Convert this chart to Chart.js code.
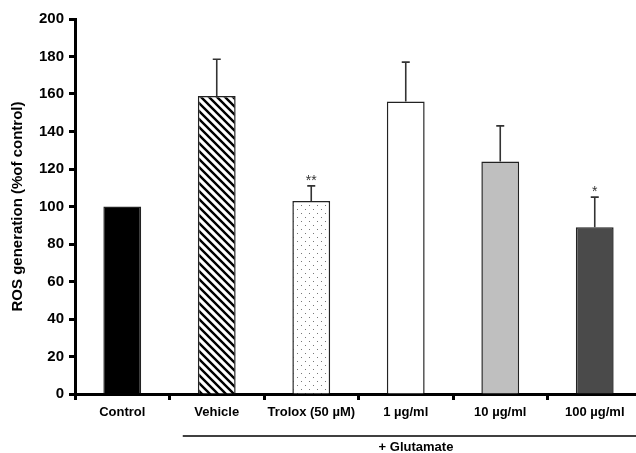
<!DOCTYPE html>
<html>
<head>
<meta charset="utf-8">
<script src="https://cdn.jsdelivr.net/npm/chart.js@4/dist/chart.umd.min.js"></script>
<style>
  html, body { margin: 0; padding: 0; background: #fff; overflow: hidden; }
  #wrap { width: 650px; height: 453px; }
</style>
</head>
<body>
<div id="wrap"><canvas id="rosChart" width="650" height="453"></canvas></div>
<script>
// data
const categories = ["Control", "Vehicle", "Trolox (50 \u00b5M)", "1 \u00b5g/ml", "10 \u00b5g/ml", "100 \u00b5g/ml"];
const rosMeans = [100, 159, 103, 156, 124, 89];
const rosErrors = [0, 19.5, 8, 21, 19, 16];
const sigMarks = ["", "", "**", "", "", "*"];
const yTicks = [0, 20, 40, 60, 80, 100, 120, 140, 160, 180, 200];

const FONT = "'Liberation Sans', Arial, sans-serif";

function makeStripes() {
    let c = document.createElement("canvas");
    c.width = 8; c.height = 8;
    let g = c.getContext("2d");
    g.fillStyle = "#fff";
    g.fillRect(0, 0, 8, 8);
    g.strokeStyle = "#000";
    g.lineWidth = 2.4;
    g.beginPath();
    g.moveTo(-2, -2); g.lineTo(10, 10);
    g.moveTo(-10, -2); g.lineTo(2, 10);
    g.moveTo(6, -2); g.lineTo(18, 10);
    g.stroke();
    return g.createPattern(c, "repeat");
}

function makeDots() {
    let c = document.createElement("canvas");
    c.width = 8; c.height = 8;
    let g = c.getContext("2d");
    g.fillStyle = "#fff";
    g.fillRect(0, 0, 8, 8);
    g.fillStyle = "#777";
    g.fillRect(1, 1, 1, 1);
    g.fillRect(5, 5, 1, 1);
    return g.createPattern(c, "repeat");
}

let ctx = document.getElementById("rosChart").getContext("2d");

// error bars, significance stars and the "+ Glutamate" bracket
const extrasPlugin = {
    id: "extras",
    afterDatasetsDraw(chart) {
        let c = chart.ctx;
        let x = chart.scales.x;
        let y = chart.scales.y;
        c.save();
        c.strokeStyle = "#333";
        c.lineWidth = 1.6;
        for (let i = 0; i < rosMeans.length; i++) {
            if (!rosErrors[i]) continue;
            let px = x.getPixelForValue(i);
            let top = y.getPixelForValue(rosMeans[i] + rosErrors[i]);
            let base = y.getPixelForValue(rosMeans[i]);
            c.beginPath();
            c.moveTo(px, base);
            c.lineTo(px, top);
            c.moveTo(px - 4, top);
            c.lineTo(px + 4, top);
            c.stroke();
            if (sigMarks[i]) {
                c.fillStyle = "#333";
                c.font = "14px " + FONT;
                c.textAlign = "center";
                c.textBaseline = "bottom";
                c.fillText(sigMarks[i], px, top + 2);
            }
        }
        // bracket under the glutamate-treated groups
        let lineY = 436;
        let left = x.getPixelForValue(1) - 34;
        c.strokeStyle = "#000";
        c.lineWidth = 1.5;
        c.beginPath();
        c.moveTo(left, lineY);
        c.lineTo(chart.width, lineY);
        c.stroke();
        c.fillStyle = "#000";
        c.font = "bold 13px " + FONT;
        c.textAlign = "center";
        c.textBaseline = "middle";
        c.fillText("+ Glutamate", (x.getPixelForValue(3) + x.getPixelForValue(4)) / 2 - 37, 447);
        c.restore();
    }
};

let myChart = new Chart(ctx, {
    type: "bar",
    data: {
        labels: categories,
        datasets: [
            {
                label: "ROS generation",
                data: rosMeans,
                backgroundColor: ["#000000", makeStripes(), makeDots(), "#ffffff", "#bfbfbf", "#4a4a4a"],
                borderColor: "#222",
                borderWidth: 1.5,
                borderSkipped: "bottom",
                barPercentage: 0.8,
                categoryPercentage: 0.5,
            },
        ],
    },
    options: {
        responsive: false,
        animation: false,
        layout: { padding: { top: 19, right: 8, left: 0, bottom: 0 } },
        plugins: {
            legend: { display: false },
            tooltip: { enabled: false },
        },
        scales: {
            x: {
                offset: true,
                border: { color: "#000", width: 3 },
                grid: {
                    offset: true,
                    drawOnChartArea: false,
                    drawTicks: true,
                    tickLength: 6,
                    tickWidth: 3,
                    color: "#000",
                },
                ticks: {
                    color: "#000",
                    padding: 5,
                    maxRotation: 0,
                    autoSkip: false,
                    font: { family: FONT, size: 13, weight: "bold" },
                },
                afterFit(scale) {
                    scale.height = 59;
                },
            },
            y: {
                min: 0,
                max: 200,
                afterBuildTicks(scale) {
                    scale.ticks = yTicks.map(v => ({ value: v }));
                },
                border: { color: "#000", width: 3 },
                grid: {
                    drawOnChartArea: false,
                    drawTicks: true,
                    tickLength: 6,
                    tickWidth: 3,
                    color: "#000",
                },
                ticks: {
                    color: "#000",
                    padding: 5,
                    font: { family: FONT, size: 15, weight: "bold" },
                },
                title: {
                    display: true,
                    text: "ROS generation (%of control)",
                    color: "#000",
                    padding: { top: 9, bottom: 0 },
                    font: { family: FONT, size: 15, weight: "bold" },
                },
                afterFit(scale) {
                    scale.width = 75;
                },
            },
        },
    },
    plugins: [extrasPlugin],
});
</script>
</body>
</html>
